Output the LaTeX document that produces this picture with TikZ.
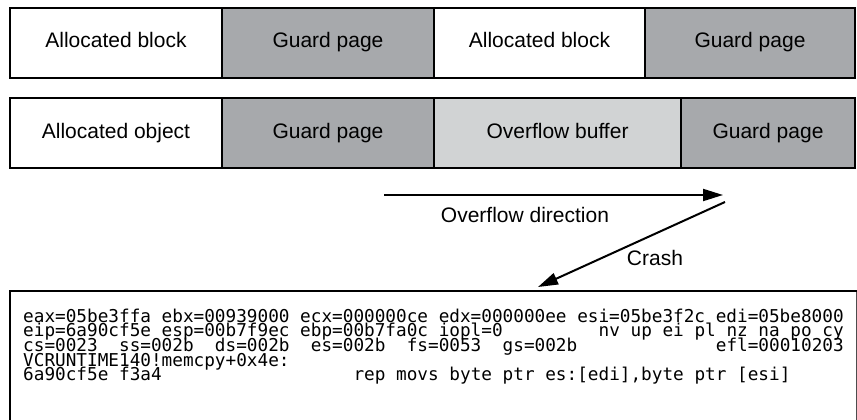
\documentclass[tikz,border=0pt]{standalone}
\usepackage{fontspec}
\setmainfont{Liberation Sans}
\newfontfamily\regfont{DejaVu Sans Mono}
\usetikzlibrary{arrows.meta}
\definecolor{guard}{HTML}{A7A9AC}
\definecolor{spill}{HTML}{D1D3D4}
\newcommand\regskip[1]{\hspace*{#1\fontcharwd\font`0}}

\begin{document}
\begin{tikzpicture}[x=1pt,y=-1pt,
  cell/.style={draw,line width=1.8pt,minimum height=70pt,inner sep=0pt,
    text height=15pt,text depth=5pt,font=\fontsize{21}{25}\selectfont},
  label/.style={anchor=base,inner sep=0pt,font=\fontsize{21}{25}\selectfont},
  regline/.style={anchor=base west,inner sep=0pt,font=\regfont\fontsize{17.7}{18}\selectfont},
  flow/.style={line width=2pt,-{Triangle[length=20pt,width=12pt]}}]
\useasboundingbox (0,0) rectangle (857,420);
% first row
\node[cell,minimum width=212pt] (blk1) at (116,43) {Allocated block};
\node[cell,fill=guard,minimum width=212pt] (grd1) at (328,43) {Guard page};
\node[cell,minimum width=211pt] (blk2) at (539.5,43) {Allocated block};
\node[cell,fill=guard,minimum width=210pt] (grd2) at (750,43) {Guard page};
% second row
\node[cell,minimum width=212pt] (obj) at (116,133) {Allocated object};
\node[cell,fill=guard,minimum width=212pt] (grd3) at (328,133) {Guard page};
\node[cell,fill=spill,minimum width=247pt] (buf) at (557.5,133) {Overflow buffer};
\node[cell,fill=guard,minimum width=174pt] (grd4) at (768,133) {Guard page};
% arrows
\coordinate (ovf-tail) at (384,195);
\coordinate (ovf-head) at (723,195);
\draw[flow] (ovf-tail) -- (ovf-head);
\node[label] (ovf-text) at (525,222) {Overflow direction};
\coordinate (crash-tail) at (725,202);
\coordinate (crash-head) at (538,287);
\draw[flow] (crash-tail) -- (crash-head);
\node[label] (crash-text) at (655,265) {Crash};
% register dump
\node[draw=black!70,line width=0.8pt,anchor=north west,minimum width=846pt,
  minimum height=150pt,inner sep=0pt] (dump) at (10,291) {};
\draw[line width=2.6pt] (dump.south west) -- (dump.north west) -- (dump.north east);
\node[regline] (reg1) at (23,322) {eax=05be3ffa ebx=00939000 ecx=000000ce edx=000000ee esi=05be3f2c edi=05be8000};
\node[regline] (reg2) at (23,336.7) {eip=6a90cf5e esp=00b7f9ec ebp=00b7fa0c iopl=0\regskip{9}nv up ei pl nz na po cy};
\node[regline] (reg3) at (23,351.4) {cs=0023\regskip{2}ss=002b\regskip{2}ds=002b\regskip{2}es=002b\regskip{2}fs=0053\regskip{2}gs=002b\regskip{13}efl=00010203};
\node[regline] (reg4) at (23,366.1) {VCRUNTIME140!memcpy+0x4e:};
\node[regline] (reg5) at (23,380.8) {6a90cf5e f3a4\regskip{18}rep movs byte ptr es:[edi],byte ptr [esi]};
\end{tikzpicture}
\end{document}
